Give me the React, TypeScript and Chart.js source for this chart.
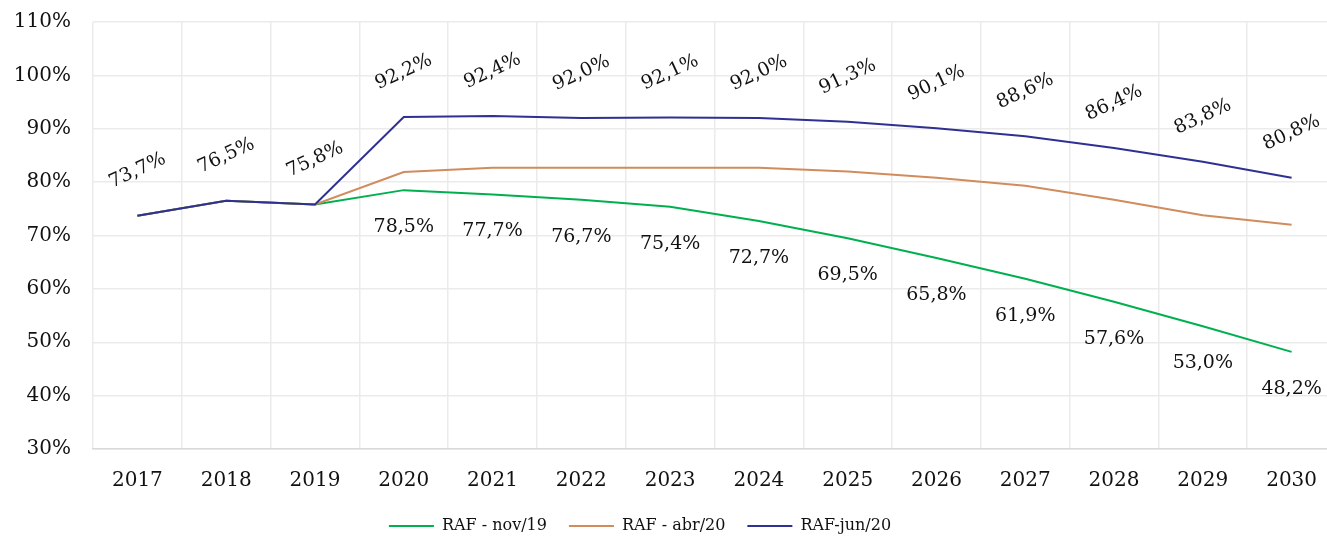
import React, { useEffect, useRef } from "react";
import { Chart, registerables } from "chart.js";

Chart.register(...registerables);

const years = ["2017", "2018", "2019", "2020", "2021", "2022", "2023", "2024", "2025", "2026", "2027", "2028", "2029", "2030"];
const rafNov19 = [73.7, 76.5, 75.8, 78.5, 77.7, 76.7, 75.4, 72.7, 69.5, 65.8, 61.9, 57.6, 53.0, 48.2];
const rafAbr20 = [73.7, 76.5, 75.8, 81.9, 82.7, 82.7, 82.7, 82.7, 82.0, 80.8, 79.3, 76.7, 73.8, 72.0];
const rafJun20 = [73.7, 76.5, 75.8, 92.2, 92.4, 92.0, 92.1, 92.0, 91.3, 90.1, 88.6, 86.4, 83.8, 80.8];
const seriesNames = ["RAF - nov/19", "RAF - abr/20", "RAF-jun/20"];
const yTicks = [30, 40, 50, 60, 70, 80, 90, 100, 110];

const FONT = '"DejaVu Serif", serif';

const fmt = (v: number) => v.toFixed(1).replace(".", ",") + "%";

// label settings per dataset index
const labelCfg: Record<number, { from: number; dy: number; rot: number }> = {
  0: { from: 3, dy: 37, rot: 0 },
  2: { from: 0, dy: -45, rot: -25 },
};

const valueLabels = {
  id: "valueLabels",
  afterDatasetsDraw(chart: any) {
    const ctx = chart.ctx;
    ctx.save();
    ctx.font = `19px ${FONT}`;
    ctx.fillStyle = "#111";
    ctx.textAlign = "center";
    ctx.textBaseline = "middle";
    chart.data.datasets.forEach((ds: any, i: number) => {
      const cfg = labelCfg[i];
      if (!cfg) return;
      const meta = chart.getDatasetMeta(i);
      meta.data.forEach((pt: any, j: number) => {
        if (j < cfg.from) return;
        ctx.save();
        ctx.translate(pt.x, pt.y + cfg.dy);
        ctx.rotate((cfg.rot * Math.PI) / 180);
        ctx.fillText(fmt(ds.data[j]), 0, 0);
        ctx.restore();
      });
    });
    ctx.restore();
  },
};

// the legend sits under the visible part of the (wider) chart
const legendShift = {
  id: "legendShift",
  afterLayout(chart: any) {
    if (chart.legend) {
      chart.legend.left = 0;
      chart.legend.right = 1280;
    }
  },
};

export default function App() {
  const ref = useRef<HTMLCanvasElement | null>(null);
  useEffect(() => {
    if (!ref.current) return;
    const chart = new Chart(ref.current, {
      type: "line",
      data: {
        labels: years,
        datasets: [
          { label: seriesNames[0], data: rafNov19, borderColor: "#00B050", backgroundColor: "#00B050", borderWidth: 2, pointRadius: 0, order: 2, tension: 0 },
          { label: seriesNames[1], data: rafAbr20, borderColor: "#D08C5C", backgroundColor: "#D08C5C", borderWidth: 2, pointRadius: 0, order: 1, tension: 0 },
          { label: seriesNames[2], data: rafJun20, borderColor: "#2E3192", backgroundColor: "#2E3192", borderWidth: 2, pointRadius: 0, order: 0, tension: 0 },
        ],
      },
      options: {
        animation: false,
        responsive: true,
        maintainAspectRatio: false,
        layout: { padding: { top: 22, right: 2, bottom: 0, left: 0 } },
        plugins: {
          tooltip: { enabled: false },
          legend: {
            position: "bottom",
            maxHeight: 43,
            labels: {
              sort: (a: any, b: any) => a.datasetIndex - b.datasetIndex,
              usePointStyle: true,
              pointStyle: "line",
              pointStyleWidth: 45,
              padding: 22,
              color: "#111",
              font: { family: FONT, size: 16 },
            },
          },
        },
        scales: {
          x: {
            type: "category",
            offset: true,
            grid: { offset: true, color: "#EBEBEB", lineWidth: 1.5, drawTicks: false },
            border: { display: true, color: "#D9D9D9", width: 1.5 },
            ticks: { color: "#111", padding: 20, font: { family: FONT, size: 20 }, maxRotation: 0 },
            afterFit: (s: any) => { s.height = 47; },
          },
          y: {
            min: 30,
            max: 110,
            grid: { color: "#EBEBEB", lineWidth: 1.5, drawTicks: false },
            border: { display: false },
            afterBuildTicks: (s: any) => { s.ticks = yTicks.map((v) => ({ value: v })); },
            ticks: {
              color: "#111",
              padding: 22,
              font: { family: FONT, size: 20 },
              callback: (v: any) => v + "%",
            },
            afterFit: (s: any) => { s.width = 93; s.paddingTop = 0; s.paddingBottom = 0; },
          },
        },
      },
      plugins: [valueLabels, legendShift],
    });
    return () => chart.destroy();
  }, []);
  return (
    <div style={{ position: "fixed", left: 0, top: 0, width: 1327, height: 539, overflow: "hidden", background: "#fff" }}>
      <div style={{ position: "relative", width: 1338, height: 539 }}>
        <canvas ref={ref} />
      </div>
    </div>
  );
}
